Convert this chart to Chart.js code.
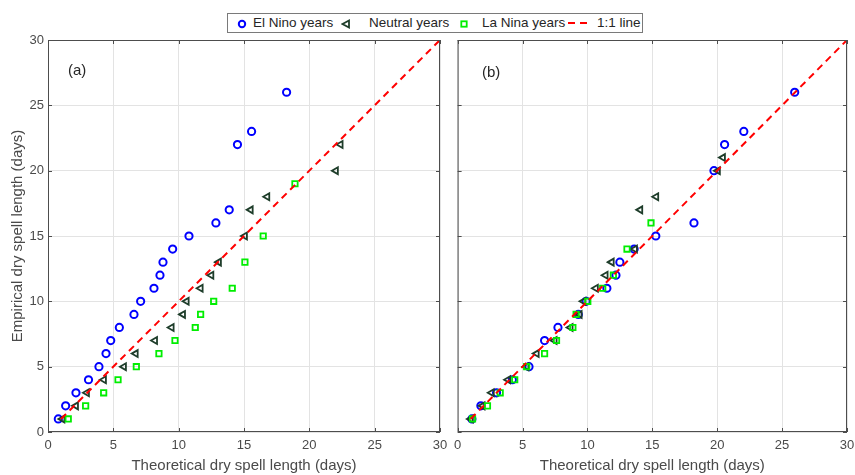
<!DOCTYPE html>
<html>
<head>
<meta charset="utf-8">
<script src="https://cdn.jsdelivr.net/npm/chart.js@4"></script>
<style>
  body { margin: 0; background: #fff; font-family: 'Liberation Sans', Arial, sans-serif; }
  #wrap { position: relative; width: 855px; height: 475px; overflow: hidden; }
  .panel { position: absolute; top: 0; height: 475px; }
  #pa { left: 0; width: 448px; }
  #pb { left: 448px; width: 407px; }
  .tag { position: absolute; font-size: 15px; color: #262626; }
  #legend { position: absolute; left: 227px; top: 13px; width: 414px; height: 18px;
            border: 1px solid #7a7a7a; background: #fff; font-size: 13.5px; color: #262626; }
  #legend span, #legend svg { position: absolute; }
  #legend span { top: 1px; white-space: nowrap; }
</style>
</head>
<body>
<div id="wrap">
  <div class="panel" id="pa"><canvas id="chartA"></canvas></div>
  <div class="panel" id="pb"><canvas id="chartB"></canvas></div>
  <div class="tag" style="left:68px;top:61px">(a)</div>
  <div class="tag" style="left:482px;top:63px">(b)</div>
  <div id="legend">
    <svg style="left:9px;top:5px" width="10" height="10"><circle cx="5" cy="5" r="3.2" fill="none" stroke="#0000ff" stroke-width="2"/></svg>
    <span style="left:25px">El Nino years</span>
    <svg style="left:113px;top:5px" width="10" height="10"><polygon points="1.5,5 8,1.5 8,8.5" fill="none" stroke="#1e3d2a" stroke-width="1.8"/></svg>
    <span style="left:141px">Neutral years</span>
    <svg style="left:231px;top:5px" width="10" height="10"><rect x="2.3" y="2.3" width="5.4" height="5.4" fill="none" stroke="#00ee00" stroke-width="1.8"/></svg>
    <span style="left:254px">La Nina years</span>
    <svg style="left:339px;top:3px" width="22" height="12"><line x1="1" y1="6" x2="21" y2="6" stroke="#ff0000" stroke-width="2" stroke-dasharray="7,5"/></svg>
    <span style="left:369px">1:1 line</span>
  </div>
</div>
<script>
// axis ticks (days)
const tickValues = [0, 5, 10, 15, 20, 25, 30];
const oneToOne = [1, 30];

// panel (a)
const elNinoA_x = [0.79, 1.35, 2.14, 3.1, 3.9, 4.44, 4.8, 5.46, 6.58, 7.09, 8.11, 8.57, 8.8, 9.54, 10.79, 12.85, 13.87, 14.5, 15.58, 18.26];
const elNinoA_y = [1, 2, 3, 4, 5, 6, 7, 8, 9, 10, 11, 12, 13, 14, 15, 16, 17, 22, 23, 26];
const neutralA_x = [1.1, 2.14, 2.98, 4.28, 5.81, 6.71, 8.19, 9.46, 10.33, 10.61, 11.68, 12.5, 13.08, 15.07, 15.51, 16.78, 22.03, 22.39];
const neutralA_y = [1, 2, 3, 4, 5, 6, 7, 8, 9, 10, 11, 12, 13, 15, 17, 18, 20, 22];
const laNinaA_x = [1.55, 2.88, 4.26, 5.36, 6.76, 8.49, 9.72, 11.27, 11.68, 12.68, 14.1, 15.07, 16.47, 18.9];
const laNinaA_y = [1, 2, 3, 4, 5, 6, 7, 8, 9, 10, 11, 13, 15, 19];

// panel (b)
const elNinoB_x = [1.1, 1.79, 3.0, 4.22, 5.5, 6.7, 7.73, 9.3, 9.9, 11.5, 12.2, 12.5, 13.6, 15.27, 18.21, 19.75, 20.57, 22.05, 25.97];
const elNinoB_y = [1, 2, 3, 4, 5, 7, 8, 9, 10, 11, 12, 13, 14, 15, 16, 20, 22, 23, 26];
const neutralB_x = [1.02, 1.92, 2.63, 3.89, 5.3, 6.09, 7.47, 8.7, 9.4, 9.7, 10.65, 11.4, 11.87, 13.66, 14.07, 15.3, 20.05, 20.44];
const neutralB_y = [1, 2, 3, 4, 5, 6, 7, 8, 9, 10, 11, 12, 13, 14, 17, 18, 20, 21];
const laNinaB_x = [1.15, 2.3, 3.28, 4.4, 5.32, 6.7, 7.62, 8.88, 9.13, 10.03, 11.18, 12.0, 13.05, 14.9];
const laNinaB_y = [1, 2, 3, 4, 5, 6, 7, 8, 9, 10, 11, 12, 14, 16];

const pts = (xs, ys) => xs.map((x, i) => ({ x: x, y: ys[i] }));
const FONT = "'Liberation Sans', Arial, sans-serif";
const TEXT = '#4a4a4a';

// MATLAB-like box with inward tick marks
const framePlugin = {
    id: 'frame',
    afterDraw(chart) {
        const { ctx, chartArea: a, scales } = chart;
        ctx.save();
        ctx.strokeStyle = '#4d4d4d';
        ctx.lineWidth = 1;
        ctx.strokeRect(a.left + 0.5, a.top + 0.5, a.width - 1, a.height - 1);
        const len = 4;
        tickValues.forEach(v => {
            const x = Math.round(scales.x.getPixelForValue(v)) + 0.5;
            const y = Math.round(scales.y.getPixelForValue(v)) + 0.5;
            ctx.beginPath();
            ctx.moveTo(x, a.bottom); ctx.lineTo(x, a.bottom - len);
            ctx.moveTo(x, a.top); ctx.lineTo(x, a.top + len);
            ctx.moveTo(a.left, y); ctx.lineTo(a.left + len, y);
            ctx.moveTo(a.right, y); ctx.lineTo(a.right - len, y);
            ctx.stroke();
        });
        ctx.restore();
    }
};

function makeChart(el, sets, showY, padRight) {
    return new Chart(el, {
        type: 'scatter',
        data: {
            datasets: [
                {
                    type: 'line', label: '1:1 line', order: 0,
                    data: pts(oneToOne, oneToOne),
                    borderColor: '#ff0000', borderWidth: 2, borderDash: [7, 5],
                    pointRadius: 0, fill: false
                },
                {
                    label: 'La Nina years', order: 1, data: pts(sets[2][0], sets[2][1]),
                    pointStyle: 'rect', pointRadius: 3.8, borderWidth: 1.8,
                    borderColor: '#00ee00', backgroundColor: 'rgba(0,0,0,0)'
                },
                {
                    label: 'Neutral years', order: 2, data: pts(sets[1][0], sets[1][1]),
                    pointStyle: 'triangle', pointRotation: -90, pointRadius: 4, borderWidth: 1.8,
                    borderColor: '#1e3d2a', backgroundColor: 'rgba(0,0,0,0)'
                },
                {
                    label: 'El Nino years', order: 3, data: pts(sets[0][0], sets[0][1]),
                    pointStyle: 'circle', pointRadius: 3.6, borderWidth: 2,
                    borderColor: '#0000ff', backgroundColor: 'rgba(0,0,0,0)'
                }
            ]
        },
        options: {
            responsive: false,
            animation: false,
            layout: { padding: { left: 0, right: padRight, top: 40, bottom: 0 } },
            plugins: { legend: { display: false }, tooltip: { enabled: false } },
            scales: {
                x: {
                    type: 'linear', min: 0, max: 30,
                    afterFit: s => { s.height = 43; s.paddingRight = 0; },
                    afterBuildTicks: s => { s.ticks = tickValues.map(v => ({ value: v })); },
                    border: { display: false },
                    grid: { color: '#e3e3e3', drawTicks: false },
                    ticks: { padding: 6, color: TEXT, font: { family: FONT, size: 13 } },
                    title: {
                        display: true, text: 'Theoretical dry spell length (days)',
                        color: TEXT, font: { family: FONT, size: 15 }, padding: { top: 0, bottom: 0 }
                    }
                },
                y: {
                    type: 'linear', min: 0, max: 30,
                    afterFit: s => { s.width = showY ? 48 : 8; },
                    afterBuildTicks: s => { s.ticks = tickValues.map(v => ({ value: v })); },
                    border: { display: false },
                    grid: { color: '#e3e3e3', drawTicks: false },
                    ticks: { display: showY, padding: 4, color: TEXT, font: { family: FONT, size: 13 } },
                    title: {
                        display: showY, text: 'Empirical dry spell length (days)',
                        color: TEXT, font: { family: FONT, size: 15 }, padding: { top: 9, bottom: 0 }
                    }
                }
            }
        },
        plugins: [framePlugin]
    });
}

const ca = document.getElementById('chartA');
ca.width = 448; ca.height = 475;
const cb = document.getElementById('chartB');
cb.width = 407; cb.height = 475;

makeChart(ca, [[elNinoA_x, elNinoA_y], [neutralA_x, neutralA_y], [laNinaA_x, laNinaA_y]], true, 8);
makeChart(cb, [[elNinoB_x, elNinoB_y], [neutralB_x, neutralB_y], [laNinaB_x, laNinaB_y]], false, 8);
</script>
</body>
</html>
